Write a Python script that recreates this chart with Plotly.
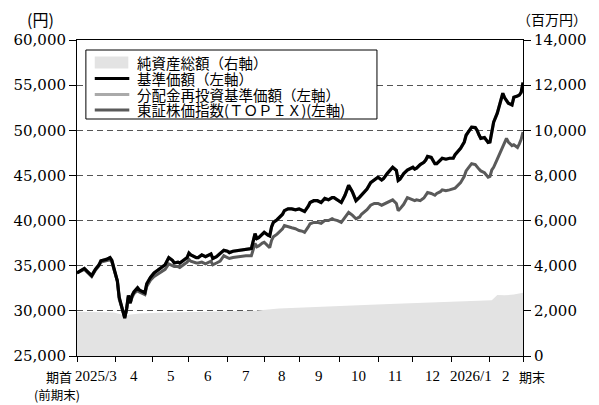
import plotly.graph_objects as go

# ---- data ----
month_end_idx = [0, 21, 41, 61, 82, 102, 121, 143, 164, 183, 204, 225, 243]
month_labels = ["2025/3", "4", "5", "6", "7", "8", "9", "10", "11", "12", "2026/1", "2"]

day_idx = [0, 2, 4, 6, 8, 10, 12, 13, 16, 18, 19, 20,
           22, 23, 25, 26, 27, 28, 29, 30, 31, 33, 34, 37,
           38, 40, 42, 44, 46, 48, 50, 52, 53, 55, 56, 58,
           60, 61, 62, 65, 66, 68, 70, 73, 74, 76, 78, 80,
           82, 83, 85, 88, 90, 92, 95, 97, 98, 99, 101, 102,
           104, 105, 106, 107, 109, 110, 112, 113, 115, 117, 119, 121,
           123, 124, 126, 127, 129, 131, 133, 135, 137, 139, 140, 142,
           144, 146, 148, 150, 152, 154, 155, 158, 160, 162, 164, 166,
           167, 169, 171, 172, 174, 175, 176, 178, 180, 182, 183, 184,
           185, 187, 189, 190, 191, 193, 194, 195, 196, 198, 199, 201,
           203, 205, 206, 209, 211, 212, 214, 215, 217, 218, 219, 220,
           222, 224, 225, 226, 227, 229, 231, 232, 233, 234, 235, 237,
           238, 240, 241, 242, 243]

nav = [34200, 34500, 34700, 34300, 33900, 34600, 35100, 35550, 35700, 35900, 35600, 34800,
       33300, 31500, 30000, 29200, 30200, 31700, 30900, 31700, 32100, 32550, 32300, 32000,
       33000, 33700, 34200, 34500, 34800, 35100, 35900, 35600, 35300, 35400, 35300, 35550,
       35900, 36400, 36200, 35900, 35900, 36200, 36000, 36300, 35800, 36000, 36400, 36700,
       36600, 36450, 36600, 36700, 36700, 36800, 36900, 38550, 38000, 38100, 38500, 38700,
       38400, 38300, 39300, 39800, 40100, 40300, 40700, 41100, 41300, 41300, 41200, 41300,
       41100, 41000, 41600, 42000, 42200, 42200, 42000, 42450, 42300, 42550, 42550, 42300,
       42000, 42800, 43900, 43200, 42200, 42600, 42800, 43500, 44200, 44500, 44800, 44500,
       44650, 45200, 45600, 45900, 45550, 44450, 44600, 45200, 45600, 45800, 45900, 45700,
       45800, 46200, 46450, 46700, 47100, 47000, 46600, 46300, 46300, 46700, 46900, 46800,
       46900, 46900, 47300, 48000, 48700, 49450, 50000, 50350, 50300, 50000, 49500, 49100,
       49200, 48650, 48700, 50000, 50900, 51900, 53200, 54100, 53600, 53300, 53000, 52800,
       53650, 53800, 53900, 54200, 55300]

# no distributions during the period -> identical to nav
reinvest_nav = [34200, 34500, 34700, 34300, 33900, 34600, 35100, 35550, 35700, 35900, 35600, 34800,
                33300, 31500, 30000, 29200, 30200, 31700, 30900, 31700, 32100, 32550, 32300, 32000,
                33000, 33700, 34200, 34500, 34800, 35100, 35900, 35600, 35300, 35400, 35300, 35550,
                35900, 36400, 36200, 35900, 35900, 36200, 36000, 36300, 35800, 36000, 36400, 36700,
                36600, 36450, 36600, 36700, 36700, 36800, 36900, 38550, 38000, 38100, 38500, 38700,
                38400, 38300, 39300, 39800, 40100, 40300, 40700, 41100, 41300, 41300, 41200, 41300,
                41100, 41000, 41600, 42000, 42200, 42200, 42000, 42450, 42300, 42550, 42550, 42300,
                42000, 42800, 43900, 43200, 42200, 42600, 42800, 43500, 44200, 44500, 44800, 44500,
                44650, 45200, 45600, 45900, 45550, 44450, 44600, 45200, 45600, 45800, 45900, 45700,
                45800, 46200, 46450, 46700, 47100, 47000, 46600, 46300, 46300, 46700, 46900, 46800,
                46900, 46900, 47300, 48000, 48700, 49450, 50000, 50350, 50300, 50000, 49500, 49100,
                49200, 48650, 48700, 50000, 50900, 51900, 53200, 54100, 53600, 53300, 53000, 52800,
                53650, 53800, 53900, 54200, 55300]

topix = [34200, 34400, 34600, 34200, 33800, 34500, 35000, 35400, 35500, 35650, 35400, 34700,
         33300, 31300, 29900, 29300, 30100, 31500, 30800, 31500, 31900, 32300, 32100, 31800,
         32700, 33400, 33800, 34100, 34300, 34600, 35200, 35000, 34900, 34900, 34800, 35100,
         35400, 35700, 35500, 35300, 35300, 35400, 35200, 35500, 35100, 35300, 35500, 36100,
         35900, 35800, 35900, 36000, 36000, 36100, 36100, 37450, 37100, 37200, 37500, 37600,
         37200, 37000, 37800, 38200, 38500, 38700, 39100, 39450, 39300, 39200, 39100, 38900,
         38800, 38700, 39300, 39650, 39800, 39800, 39700, 40000, 40000, 40200, 40100, 40000,
         39800, 40400, 40900, 40600, 40200, 40400, 40700, 41200, 41700, 41900, 41900, 41700,
         41800, 42000, 42200, 42300, 41900, 41100, 41300, 41800, 42550, 42400, 42300, 42200,
         42300, 42200, 42500, 42800, 43100, 43000, 42900, 42800, 43000, 43200, 43400, 43300,
         43400, 43500, 43600, 44200, 44900, 45500, 46000, 46300, 46200, 45900, 45700, 45500,
         45300, 44800, 44900, 45600, 45900, 46800, 47800, 48200, 48800, 49100, 48700, 48300,
         48400, 48100, 48500, 49000, 49800]

na_idx = [0, 12, 20, 24, 26, 28, 34, 45, 66, 97, 110, 121, 136, 147, 160, 174, 190, 214, 226, 229, 233, 238, 243]
net_assets = [1960, 1950, 1930, 1850, 1730, 1830, 1880, 1920, 1960, 2010, 2100, 2130, 2180, 2220,
              2270, 2320, 2370, 2420, 2470, 2700, 2690, 2720, 2800]

# ---- layout helpers ----
W, H = 599, 405
ML, MR, MT, MB = 77, 70, 40, 49
PW, PH = W - ML - MR, H - MT - MB


def px_x(px):
    return (px - ML) / PW


def px_y(py):
    return (H - MB - py) / PH


NUM_FONT = "DejaVu Serif, Noto Sans CJK JP"
JP_FONT = "Noto Sans CJK JP"
C_AREA = "#e3e3e3"
C_NAV = "#000000"
C_REINV = "#aaaaaa"
C_TOPIX = "#5a5a5a"

fig = go.Figure()
fig.add_trace(go.Scatter(x=na_idx, y=net_assets, yaxis="y", mode="lines",
                         line=dict(width=0, color=C_AREA), fill="tozeroy",
                         fillcolor=C_AREA, hoverinfo="skip", showlegend=False))
fig.add_trace(go.Scatter(x=day_idx, y=reinvest_nav, yaxis="y2", mode="lines",
                         line=dict(width=3, color=C_REINV), showlegend=False))
fig.add_trace(go.Scatter(x=day_idx, y=topix, yaxis="y2", mode="lines",
                         line=dict(width=3, color=C_TOPIX), showlegend=False))
fig.add_trace(go.Scatter(x=day_idx, y=nav, yaxis="y2", mode="lines",
                         line=dict(width=3.2, color=C_NAV), showlegend=False))

shapes = []
annotations = []

# legend box
shapes.append(dict(type="rect", xref="paper", yref="paper",
                   x0=px_x(86), x1=px_x(381), y0=px_y(50), y1=px_y(119),
                   line=dict(color="black", width=1), fillcolor="white", layer="above"))
legend_items = [
    ("area", C_AREA, "純資産総額（右軸）"),
    ("line", C_NAV, "基準価額（左軸）"),
    ("line", C_REINV, "分配金再投資基準価額（左軸）"),
    ("line", C_TOPIX, "東証株価指数(ＴＯＰＩＸ)(左軸)"),
]
row_y = [62.5, 78.5, 94.5, 110]
for (kind, col, label), ry in zip(legend_items, row_y):
    if kind == "area":
        shapes.append(dict(type="rect", xref="paper", yref="paper",
                           x0=px_x(95), x1=px_x(129), y0=px_y(ry - 6), y1=px_y(ry + 6),
                           line=dict(width=0), fillcolor=col, layer="above"))
    else:
        shapes.append(dict(type="line", xref="paper", yref="paper",
                           x0=px_x(95), x1=px_x(130), y0=px_y(ry), y1=px_y(ry),
                           line=dict(width=3, color=col), layer="above"))
    annotations.append(dict(xref="paper", yref="paper", x=px_x(136), y=px_y(ry),
                            xanchor="left", yanchor="middle", text=label, showarrow=False,
                            font=dict(family=JP_FONT, size=14.5, color="black")))

# month labels
for i, lab in enumerate(month_labels):
    mid = (month_end_idx[i] + month_end_idx[i + 1]) / 2
    annotations.append(dict(xref="x", yref="paper", x=mid, y=0, yshift=-20,
                            xanchor="center", yanchor="middle", text=lab, showarrow=False,
                            font=dict(family="Liberation Serif", size=15, color="black")))
annotations.append(dict(xref="x", yref="paper", x=month_end_idx[0], y=0, xshift=-18, yshift=-20,
                        xanchor="center", yanchor="middle", text="期首", showarrow=False,
                        font=dict(family=JP_FONT, size=13, color="black")))
annotations.append(dict(xref="x", yref="paper", x=month_end_idx[0], y=0, xshift=-20, yshift=-38,
                        xanchor="center", yanchor="middle", text="(前期末)", showarrow=False,
                        font=dict(family=JP_FONT, size=12.5, color="black")))
annotations.append(dict(xref="x", yref="paper", x=month_end_idx[-1], y=0, xshift=9, yshift=-20,
                        xanchor="center", yanchor="middle", text="期末", showarrow=False,
                        font=dict(family=JP_FONT, size=13, color="black")))
# unit labels
annotations.append(dict(xref="paper", yref="paper", x=px_x(40), y=px_y(19),
                        xanchor="center", yanchor="middle", text="(円)", showarrow=False,
                        font=dict(family=JP_FONT, size=16, color="black")))
annotations.append(dict(xref="paper", yref="paper", x=px_x(558), y=px_y(19),
                        xanchor="center", yanchor="middle", text="（百万円）", showarrow=False,
                        font=dict(family=JP_FONT, size=14, color="black")))

fig.update_layout(
    width=W, height=H,
    margin=dict(l=ML, r=MR, t=MT, b=MB, pad=0),
    paper_bgcolor="white", plot_bgcolor="white",
    showlegend=False,
    xaxis=dict(range=[month_end_idx[0], month_end_idx[-1]], tickmode="array",
               tickvals=month_end_idx, showticklabels=False, ticks="outside",
               ticklen=5, tickcolor="black", tickwidth=1,
               showline=True, linecolor="black", linewidth=1, mirror=True,
               showgrid=False, zeroline=False),
    yaxis=dict(range=[0, 14000], dtick=2000, tickformat=",", side="right",
               ticks="outside", ticklen=7, tickcolor="black",
               showline=True, linecolor="black", linewidth=1,
               showgrid=False, zeroline=False,
               tickfont=dict(family=NUM_FONT, size=15, color="black")),
    yaxis2=dict(range=[25000, 60000], dtick=5000, tickformat=",", side="left",
                overlaying="y", ticks="outside", ticklen=7, tickcolor="black",
                showline=True, linecolor="black", linewidth=1,
                showgrid=True, gridcolor="#555555", gridwidth=1, griddash="6px,4px",
                zeroline=False,
                tickfont=dict(family=NUM_FONT, size=15, color="black")),
    shapes=shapes,
    annotations=annotations,
)

fig.write_html("out.html")
